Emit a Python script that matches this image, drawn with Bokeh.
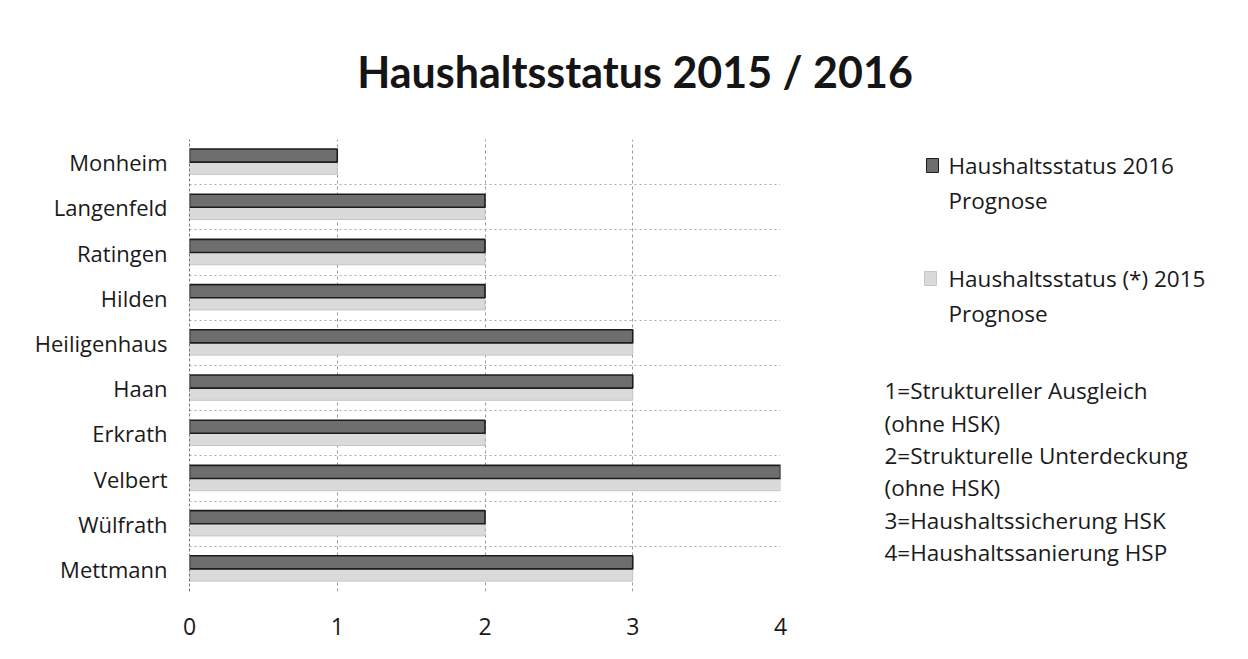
from bokeh.plotting import figure
from bokeh.models import (ColumnDataSource, FactorRange, Range1d, FixedTicker)
from bokeh.layouts import column, row
from bokeh.transform import dodge
from bokeh.core.properties import value
from bokeh.embed import file_html
from bokeh.resources import INLINE

# ---------------- data ----------------
cities = ["Monheim", "Langenfeld", "Ratingen", "Hilden", "Heiligenhaus",
          "Haan", "Erkrath", "Velbert", "Wülfrath", "Mettmann"]
status_2016 = [1, 2, 2, 2, 3, 3, 2, 4, 2, 3]
status_2015 = [1, 2, 2, 2, 3, 3, 2, 4, 2, 3]
x_ticks = [0, 1, 2, 3, 4]
title_text = "Haushaltsstatus 2015 / 2016"
series_names = ["Haushaltsstatus 2016", "Haushaltsstatus (*) 2015"]
series_suffix = "Prognose"
key_lines = ["1=Struktureller Ausgleich", "(ohne HSK)",
             "2=Strukturelle Unterdeckung", "(ohne HSK)",
             "3=Haushaltssicherung HSK", "4=Haushaltssanierung HSP"]

FONT = "Open Sans"
TXT = "#1a1a1a"
DARK_FILL, DARK_LINE = "#6e6e6e", "#1c1c1c"
LIGHT_FILL, LIGHT_LINE = "#dadada", "#c6c6c6"

W_TOTAL, H_TOTAL = 1240, 651
HEAD_H = 130
CHART_W = 860
FRAME_TOP, FRAME_BOTTOM = 139, 591   # page y of the chart frame


def blank(fig):
    fig.axis.visible = False
    fig.grid.visible = False
    fig.outline_line_color = None
    fig.background_fill_color = "white"
    fig.border_fill_color = "white"


# ---------------- header (title) ----------------
head = figure(width=W_TOTAL, height=HEAD_H, x_range=Range1d(0, W_TOTAL),
              y_range=Range1d(HEAD_H, 0), output_backend="svg",
              toolbar_location=None, min_border=0)
blank(head)
head.text(x=[634.5], y=[71], text=[title_text], text_align="center",
          text_baseline="middle", text_font=value("Lato"),
          text_font_style="bold", text_font_size="43px", text_color="#151515")

# ---------------- chart ----------------
factors = cities[::-1]  # first city at the top
src = ColumnDataSource(dict(city=cities, s2016=status_2016, s2015=status_2015))

p = figure(width=CHART_W, height=H_TOTAL - HEAD_H,
           y_range=FactorRange(factors=factors),
           x_range=Range1d(0, 4),
           output_backend="svg", toolbar_location=None,
           min_border_left=189, min_border_right=CHART_W - 780,
           min_border_top=FRAME_TOP - HEAD_H,
           min_border_bottom=H_TOTAL - FRAME_BOTTOM)
p.outline_line_color = None
p.background_fill_color = "white"
p.border_fill_color = "white"

p.hbar(y=dodge("city", -0.135, range=p.y_range), left=0, right="s2015",
       height=0.27, fill_color=LIGHT_FILL, line_color=LIGHT_LINE,
       line_width=1, source=src)
p.hbar(y=dodge("city", 0.145, range=p.y_range), left=0, right="s2016",
       height=0.29, fill_color=DARK_FILL, line_color=DARK_LINE,
       line_width=1.6, source=src)

p.xaxis.ticker = FixedTicker(ticks=x_ticks)
p.xaxis.axis_line_color = None
p.xaxis.major_tick_line_color = None
p.xaxis.major_tick_out = 0
p.xaxis.minor_tick_line_color = None
p.xaxis.major_label_standoff = 26
p.xaxis.major_label_text_font = FONT
p.xaxis.major_label_text_font_size = "23px"
p.xaxis.major_label_text_color = TXT

p.yaxis.axis_line_color = "#777777"
p.yaxis.axis_line_dash = "3 2"
p.yaxis.major_tick_line_color = None
p.yaxis.major_tick_out = 0
p.yaxis.major_label_standoff = 22
p.yaxis.major_label_text_font = FONT
p.yaxis.major_label_text_font_size = "22px"
p.yaxis.major_label_text_color = TXT

p.xgrid.ticker = FixedTicker(ticks=x_ticks[1:])
p.xgrid.grid_line_color = "#999999"
p.xgrid.grid_line_dash = "3 3"
p.ygrid.ticker = FixedTicker(ticks=list(range(len(cities) + 1)))
p.ygrid.grid_line_color = "#aaaaaa"
p.ygrid.grid_line_dash = "2 3"

# ---------------- side panel (legend + key) ----------------
# its frame is aligned with the chart frame by the row layout
side = figure(width=W_TOTAL - CHART_W, height=H_TOTAL - HEAD_H,
              x_range=Range1d(CHART_W, W_TOTAL),
              y_range=Range1d(FRAME_BOTTOM, FRAME_TOP),
              output_backend="svg", toolbar_location=None, min_border=0)
blank(side)

# legend swatches
side.quad(left=[926, 924], right=[938, 936], top=[158, 271], bottom=[172, 285],
          fill_color=[DARK_FILL, LIGHT_FILL], line_color=[DARK_LINE, LIGHT_LINE],
          line_width=1)
side.text(x=[948, 948, 948, 948], y=[165, 200, 278, 313],
          text=[series_names[0], series_suffix, series_names[1], series_suffix],
          text_align="left", text_baseline="middle", text_font=value(FONT),
          text_font_size="22.5px", text_color=TXT)
side.text(x=[884] * len(key_lines), y=[390, 423, 455, 487, 520, 552],
          text=key_lines, text_align="left", text_baseline="middle",
          text_font=value(FONT), text_font_size="22.5px", text_color=TXT)

layout = column(head, row(p, side, spacing=0), spacing=0)
open("out.html", "w").write(file_html(layout, INLINE))
